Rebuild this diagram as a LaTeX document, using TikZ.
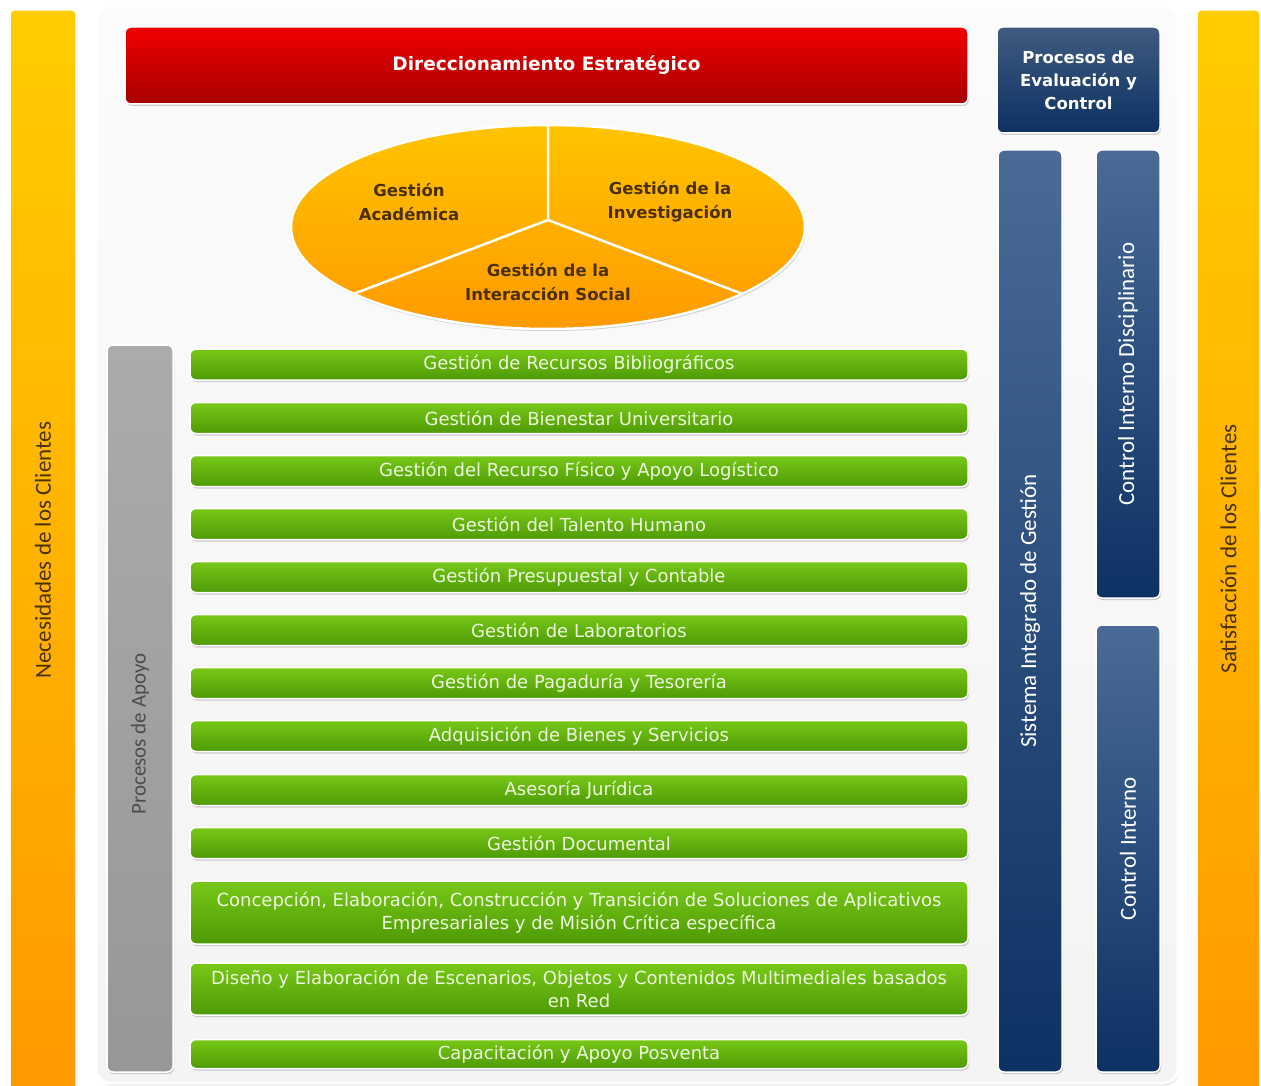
\documentclass[tikz,border=0pt]{standalone}
\usepackage{fontspec}
\setmainfont{DejaVu Sans}
\newfontfamily\calfont{Carlito}
\usetikzlibrary{shapes.geometric,shadows}

\begin{document}
\begin{tikzpicture}[x=1pt,y=-1pt,
  box/.style={rectangle, rounded corners=6pt, draw=white, line width=1.5pt, inner sep=0pt,
    drop shadow={shadow xshift=1pt, shadow yshift=-2pt, opacity=0.3, fill=black!60}},
  greenbar/.style={box, top color=greentop, bottom color=greenbot, minimum width=778pt,
    text=greentext, align=center, font=\fontsize{18pt}{23pt}\selectfont},
  bluebar/.style={box, top color=bluetop, bottom color=bluebot, minimum width=64pt},
  orangebar/.style={box, rounded corners=4pt, top color=orangetop, bottom color=orangebot, minimum width=66pt},
  sidetext/.style={rotate=90, font=\calfont\fontsize{23pt}{23pt}\selectfont}]
\definecolor{orangetop}{HTML}{FFCC00}
\definecolor{orangebot}{HTML}{FF9900}
\definecolor{orangetext}{HTML}{4A3100}
\definecolor{redtop}{HTML}{F20000}
\definecolor{redbot}{HTML}{A50000}
\definecolor{bluetop}{HTML}{4B6B96}
\definecolor{bluebot}{HTML}{0C3163}
\definecolor{greentop}{HTML}{78C818}
\definecolor{greenbot}{HTML}{4E9A06}
\definecolor{greentext}{HTML}{EEF8DD}
\definecolor{graytop}{HTML}{ABABAB}
\definecolor{graybot}{HTML}{979797}
\definecolor{coretop}{HTML}{FFC400}
\definecolor{corebot}{HTML}{FF9A00}
\definecolor{coretext}{HTML}{4A3000}
\useasboundingbox (0,0) rectangle (1261,1086);
\fill[white] (0,0) rectangle (1261,1086);
% side bars
\node[orangebar, minimum height=1090pt] (needs) at (43,555) {};
\node[orangebar, minimum height=1090pt, minimum width=63pt] (satisf) at (1228.5,555) {};
\node[sidetext, text=orangetext] at (43,550) {Necesidades de los Clientes};
\node[sidetext, text=orangetext] at (1228.5,549) {Satisfacción de los Clientes};
\node[box, rounded corners=14pt, line width=3pt, top color=white!97!gray, bottom color=white!91!gray,
  minimum width=1082pt, minimum height=1077pt] (frame) at (637,544.5) {};
\node[box, top color=redtop, bottom color=redbot, minimum width=843pt, minimum height=77pt,
  text=white, font=\bfseries\fontsize{18.5pt}{23pt}\selectfont] (strategy) at (546.5,65.5) {Direccionamiento Estratégico};
\node[box, top color=bluetop!85!black, bottom color=bluebot, minimum width=163pt, minimum height=106pt,
  text=white, align=center, font=\bfseries\fontsize{16.5pt}{23pt}\selectfont] (evaluation) at (1078.5,80)
  {Procesos de\\Evaluación y\\Control};
\node[bluebar, minimum height=922pt] (system) at (1030,611) {};
\node[bluebar, minimum height=448pt] (discipline) at (1128,374) {};
\node[bluebar, minimum height=447pt] (control) at (1128,848.5) {};
\node[sidetext, text=white] at (system.center) {Sistema Integrado de Gestión};
\node[sidetext, text=white] at (discipline.center) {Control Interno Disciplinario};
\node[sidetext, text=white] at (control.center) {Control Interno};
% misional
\node[ellipse, draw=white, line width=2.5pt, top color=coretop, bottom color=corebot, inner sep=0pt,
  minimum width=514pt, minimum height=204pt,
  drop shadow={shadow xshift=1pt, shadow yshift=-2pt, opacity=0.3, fill=black!60}] (core) at (548,227) {};
\coordinate (hub) at ([yshift=7pt]core.center);
\draw[white, line width=2.5pt] (core.north) -- (hub) -- (core.199);
\draw[white, line width=2.5pt] (hub) -- (core.341);
\node[text=coretext, align=center, font=\bfseries\fontsize{16.5pt}{24pt}\selectfont] (academic) at (409,202) {Gestión\\Académica};
\node[text=coretext, align=center, font=\bfseries\fontsize{16.5pt}{24pt}\selectfont] (research) at (670,202) {Gestión de la\\Investigación};
\node[text=coretext, align=center, font=\bfseries\fontsize{16.5pt}{24pt}\selectfont] (social) at (548,282) {Gestión de la\\Interacción Social};
% apoyo
\node[box, top color=graytop, bottom color=graybot, minimum width=66pt, minimum height=727pt] (support) at (140,708.5) {};
\node[sidetext, text=black!70, font=\calfont\fontsize{21pt}{21pt}\selectfont] at (140,734) {Procesos de Apoyo};
\node[greenbar, minimum height=31pt] (g1) at (579,364.5) {Gestión de Recursos Bibliográficos};
\node[greenbar, minimum height=31pt] (g2) at (579,418) {Gestión de Bienestar Universitario};
\node[greenbar, minimum height=31pt] (g3) at (579,471) {Gestión del Recurso Físico y Apoyo Logístico};
\node[greenbar, minimum height=31pt] (g4) at (579,524) {Gestión del Talento Humano};
\node[greenbar, minimum height=31pt] (g5) at (579,577) {Gestión Presupuestal y Contable};
\node[greenbar, minimum height=31pt] (g6) at (579,630) {Gestión de Laboratorios};
\node[greenbar, minimum height=31pt] (g7) at (579,683) {Gestión de Pagaduría y Tesorería};
\node[greenbar, minimum height=31pt] (g8) at (579,736) {Adquisición de Bienes y Servicios};
\node[greenbar, minimum height=31pt] (g9) at (579,790) {Asesoría Jurídica};
\node[greenbar, minimum height=31pt] (g10) at (579,843) {Gestión Documental};
\node[greenbar, minimum height=63pt] (g11) at (579,912.5) {Concepción, Elaboración, Construcción y Transición de Soluciones de Aplicativos\\Empresariales y de Misión Crítica específica};
\node[greenbar, minimum height=52pt] (g12) at (579,989) {Diseño y Elaboración de Escenarios, Objetos y Contenidos Multimediales basados\\en Red};
\node[greenbar, minimum height=29pt] (g13) at (579,1054) {Capacitación y Apoyo Posventa};
\end{tikzpicture}
\end{document}
